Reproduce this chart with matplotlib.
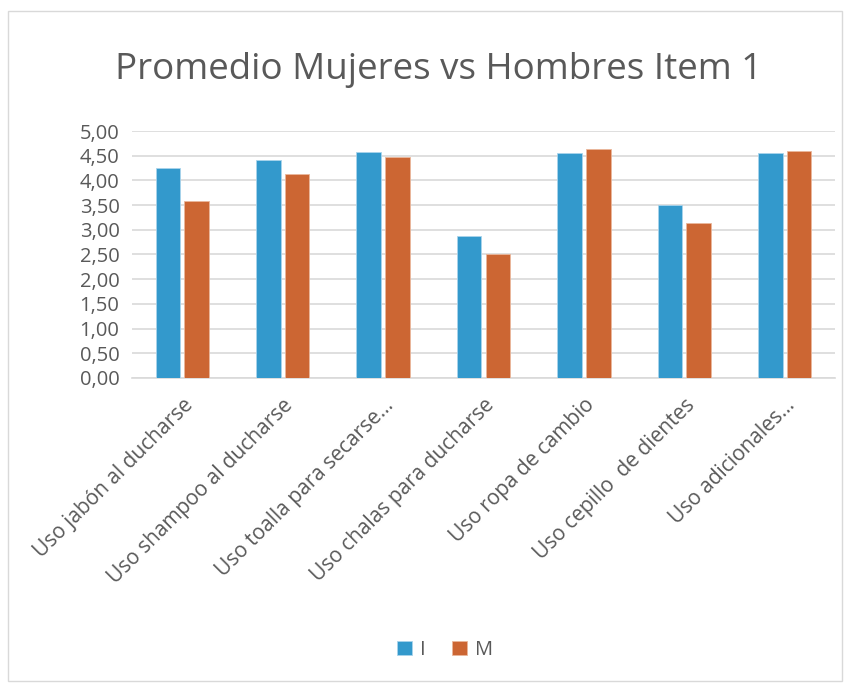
import numpy as np
import matplotlib.pyplot as plt
from matplotlib.patches import Rectangle

categories = ['Uso jabón al ducharse', 'Uso shampoo al ducharse', 'Uso toalla para secarse...',
              'Uso chalas para ducharse', 'Uso ropa de cambio', 'Uso cepillo  de dientes',
              'Uso adicionales...']
serie_i = [4.25, 4.42, 4.57, 2.88, 4.56, 3.50, 4.56]
serie_m = [3.59, 4.12, 4.47, 2.52, 4.64, 3.14, 4.60]
yticks = np.arange(0, 5.01, 0.5)

plt.rcParams['font.family'] = ['Open Sans', 'DejaVu Sans']
gray = '#595959'

fig = plt.figure(figsize=(8.56, 6.89), dpi=100)
ax = fig.add_axes([132/856, 1-378/689, (835-132)/856, (378-131)/689])

x = np.arange(len(categories))
w = 0.245
ax.bar(x - w/2 - 0.02, serie_i, w, color='#3399CC', edgecolor='#a9d4ec', linewidth=0.6, label='I', zorder=3)
ax.bar(x + w/2 + 0.02, serie_m, w, color='#CC6633', edgecolor='#eab79c', linewidth=0.6, label='M', zorder=3)

ax.set_xlim(-0.5, len(categories) - 0.5)
ax.set_ylim(0, 5)
ax.set_yticks(yticks)
ax.set_yticklabels([f'{v:.2f}'.replace('.', ',') for v in yticks], color=gray, fontsize=14.5)
ax.set_xticks(x)
ax.set_xticklabels(categories, rotation=45, ha='right', rotation_mode='anchor', color=gray, fontsize=15)
ax.tick_params(length=0, axis='x', pad=12)
ax.tick_params(length=0, axis='y', pad=9)
ax.grid(axis='y', color='#d9d9d9', linewidth=1.2, zorder=0)
for s in ['left', 'right', 'top']:
    ax.spines[s].set_visible(False)
ax.spines['bottom'].set_color('#d9d9d9')
ax.spines['bottom'].set_linewidth(1.2)

fig.text(439/856, 1-70/689, 'Promedio Mujeres vs Hombres Item 1', ha='center', va='center',
         fontsize=26.5, color=gray)

fig.legend(loc='center', bbox_to_anchor=(445/856, 1-650/689), ncol=2, frameon=False,
           fontsize=14.5, labelcolor=gray, handlelength=0.75, handleheight=0.75, columnspacing=1.3,
           handletextpad=0.4)

fig.patches.append(Rectangle((8/856, 8/689), 834/856, 670/689, transform=fig.transFigure,
                             fill=False, edgecolor='#d9d9d9', linewidth=1))

fig.savefig('out.png', dpi=100, facecolor='white')
